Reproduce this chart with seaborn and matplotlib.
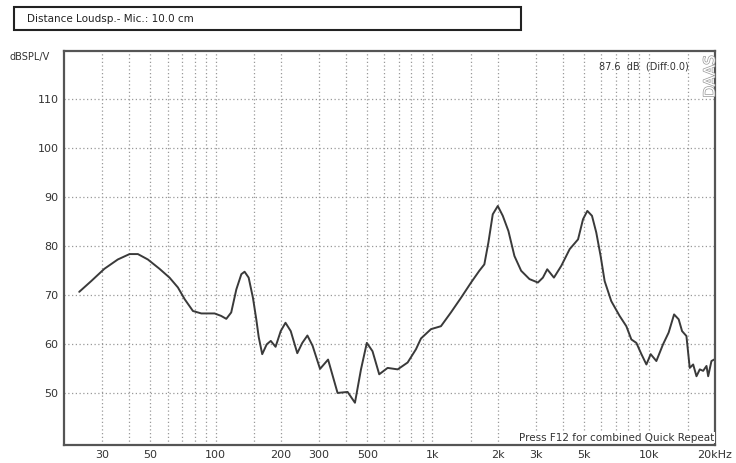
import matplotlib
matplotlib.use("Agg")
import pandas as pd
import matplotlib.pyplot as plt
import matplotlib.patches as patches
import matplotlib.patheffects as pe
import seaborn as sns

# Frequency response (Hz, dB SPL)
freq_hz = [23.5, 26.7, 30.7, 35.4, 40.1, 43.8, 48.7, 55.1, 61.3, 67, 72, 78.6, 85.9, 98.9,
           106, 112, 118, 124.6, 131.4, 136, 142, 148.6, 154, 158, 164, 172, 179.6, 189,
           199.6, 210, 222, 238, 251, 265, 280, 303, 330, 365, 406, 439, 468, 498, 529,
           568, 621, 691, 768, 839, 885, 984, 1094, 1216, 1354, 1506, 1644, 1734, 1811,
           1896, 2000, 2109, 2239, 2387, 2563, 2800, 3062, 3229, 3381, 3630, 3925, 4290,
           4690, 4944, 5175, 5437, 5690, 5960, 6219, 6674, 7290, 7830, 8260, 8710, 9190,
           9690, 10140, 10770, 11560, 12270, 13000, 13650, 14150, 14820, 15350, 15920,
           16490, 17080, 17700, 18340, 18670, 19330, 19880]
spl_db = [70.7, 72.9, 75.4, 77.3, 78.4, 78.4, 77.3, 75.4, 73.6, 71.6, 69.2, 66.8, 66.3, 66.3,
          65.8, 65.2, 66.5, 71.2, 74.3, 74.8, 73.6, 69.5, 65.1, 61.5, 58.0, 60.0, 60.7, 59.5,
          62.7, 64.4, 62.7, 58.2, 60.3, 61.8, 59.7, 55.0, 56.9, 50.1, 50.3, 48.1, 54.9, 60.3, 58.6,
          53.9, 55.2, 54.9, 56.3, 59.0, 61.2, 63.1, 63.7, 66.5, 69.5, 72.6, 75.0, 76.3, 80.8,
          86.5, 88.2, 86.2, 83.1, 78.0, 75.0, 73.3, 72.6, 73.6, 75.3, 73.6, 76.0, 79.4,
          81.4, 85.5, 87.2, 86.2, 82.8, 78.0, 72.9, 68.8, 65.8, 63.7, 61.0, 60.3, 58.0,
          55.9, 58.0, 56.6, 60.0, 62.4, 66.1, 65.1, 62.7, 61.7, 55.2, 55.9,
          53.5, 54.9, 54.6, 55.6, 53.5, 56.6, 56.9]

x_ticks = [30, 50, 100, 200, 300, 500, 1000, 2000, 3000, 5000, 10000, 20000]
x_ticklabels = ["30", "50", "100", "200", "300", "500", "1k", "2k", "3k", "5k", "10k", "20kHz"]
x_grid = [30, 40, 50, 60, 70, 80, 90, 100, 150, 200, 300, 400, 500, 600, 700, 800, 900,
          1000, 1500, 2000, 3000, 4000, 5000, 6000, 7000, 8000, 9000, 10000, 15000]
y_ticks = [50, 60, 70, 80, 90, 100, 110]

df = pd.DataFrame({"freq": freq_hz, "spl": spl_db})

sns.set_style("white")
plt.rcParams["font.family"] = ["DejaVu Sans"]

fig = plt.figure(figsize=(7.36, 4.63), dpi=100)
ax = fig.add_axes([0.087, 0.039, 0.884, 0.851])

sns.lineplot(data=df, x="freq", y="spl", ax=ax, color="#3a3a3a", linewidth=1.4)
ax.set_xscale("log")
ax.set_xlim(20, 20000)
ax.set_ylim(39.5, 119.8)

for g in x_grid:
    ax.axvline(g, color="#999999", linestyle=(0, (1, 2)), linewidth=0.9, zorder=0)
for g in y_ticks:
    ax.axhline(g, color="#999999", linestyle=(0, (1, 2)), linewidth=0.9, zorder=0)

ax.set_xticks(x_ticks)
ax.set_xticklabels(x_ticklabels)
ax.xaxis.set_minor_locator(matplotlib.ticker.NullLocator())
ax.set_yticks(y_ticks)
ax.tick_params(axis="both", length=0, labelsize=8, colors="#333333", pad=4)
ax.set_xlabel("")
ax.set_ylabel("")
for s in ax.spines.values():
    s.set_color("#555555")
    s.set_linewidth(1.6)

fig.text(0.013, 0.877, "dBSPL/V", fontsize=7, color="#333333", ha="left", va="center")
ax.text(0.96, 0.96, "87.6  dB  (Diff:0.0)", transform=ax.transAxes, fontsize=7,
        color="#333333", ha="right", va="center")
ax.text(0.993, 0.935, "DAAS", transform=ax.transAxes, fontsize=11, color="white",
        rotation=90, ha="center", va="center",
        path_effects=[pe.Stroke(linewidth=1.0, foreground="#999999"), pe.Normal()])
ax.text(0.999, 0.006, "Press F12 for combined Quick Repeat", transform=ax.transAxes,
        fontsize=7.5, color="#333333", ha="right", va="bottom",
        bbox=dict(facecolor="white", edgecolor="none", pad=0.5))

# header box
fig.patches.append(patches.Rectangle((0.019, 0.935), 0.689, 0.05, transform=fig.transFigure,
                                     facecolor="white", edgecolor="#222222", linewidth=1.5))
fig.text(0.037, 0.96, "Distance Loudsp.- Mic.: 10.0 cm", fontsize=7.5, color="#222222",
         ha="left", va="center")

fig.savefig("out.png", dpi=100)
